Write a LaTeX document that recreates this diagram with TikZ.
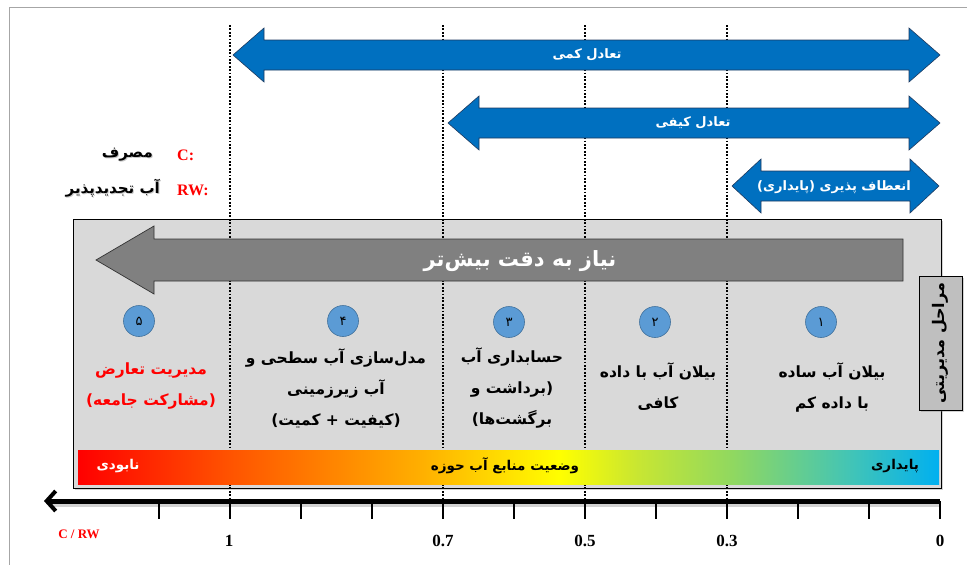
\documentclass[tikz,border=0pt]{standalone}
\usepackage{fontspec}
\setmainfont{Liberation Serif}
\newfontfamily\farsi[Script=Arabic]{DejaVu Sans}
\newfontfamily\parfont{DejaVu Sans}
\TeXXeTstate=1
\usetikzlibrary{arrows.meta,shadows}
\newcommand\fatext[1]{\beginR #1\endR}
\newcommand\lpar{{\parfont\bfseries(}}
\newcommand\rpar{{\parfont\bfseries)}}
\definecolor{bluearr}{HTML}{0070C0}
\definecolor{blueedge}{HTML}{1F3A5F}
\definecolor{boxgrey}{HTML}{D9D9D9}
\definecolor{arrgrey}{HTML}{808080}
\definecolor{circblue}{HTML}{5B9BD5}
\definecolor{circedge}{HTML}{41719C}
\definecolor{tabgrey}{HTML}{BFBFBF}
\definecolor{gA}{HTML}{FF0000}
\definecolor{gB}{HTML}{FF5500}
\definecolor{gC}{HTML}{FFB000}
\definecolor{gD}{HTML}{FFFF00}
\definecolor{gE}{HTML}{C8E632}
\definecolor{gF}{HTML}{90D860}
\definecolor{gG}{HTML}{40C4B8}
\definecolor{gH}{HTML}{00B0F0}
\pgfdeclarehorizontalshading{statusgrad}{100bp}{color(0bp)=(gA); color(25bp)=(gA); color(34bp)=(gB); color(45bp)=(gC); color(53bp)=(gD); color(57.5bp)=(gE); color(63bp)=(gF); color(70bp)=(gG); color(75bp)=(gH); color(100bp)=(gH)}
\newcommand\dblarrow[4]{% xl, xr, yc, head length
  \filldraw[bluearrow] (#1,#3) -- ({#1+#4},{#3-27}) -- ({#1+#4},{#3-15}) -- ({#2-#4},{#3-15}) -- ({#2-#4},{#3-27}) -- (#2,#3) -- ({#2-#4},{#3+27}) -- ({#2-#4},{#3+15}) -- ({#1+#4},{#3+15}) -- ({#1+#4},{#3+27}) -- cycle;}
\begin{document}
\begin{tikzpicture}[x=1pt,y=-1pt,
  bluearrow/.style={fill=bluearr,draw=blueedge,line width=0.6pt},
  dotline/.style={line width=1.8pt,dash pattern=on 1.8pt off 1.6pt},
  fatxt/.style={font=\farsi\bfseries\fontsize{15.5}{31}\selectfont,align=center,inner sep=0pt},
  arrtxt/.style={font=\farsi\bfseries\fontsize{13}{15}\selectfont,text=white,inner sep=0pt},
  bartxt/.style={font=\farsi\bfseries\fontsize{13.5}{15}\selectfont,inner sep=0pt},
  legfa/.style={font=\farsi\bfseries\fontsize{15}{17}\selectfont,inner sep=0pt,anchor=east},
  circ/.style={circle,fill=circblue,draw=circedge,line width=0.6pt,minimum size=31pt,inner sep=0pt,font=\farsi\fontsize{13}{15}\selectfont},
  numlbl/.style={font=\bfseries\fontsize{17}{19}\selectfont,inner sep=0pt},
  tick/.style={line width=2pt}]
\useasboundingbox (0,0) rectangle (967,565);
% frame
\draw[gray!70,line width=0.8pt] (9,565) -- (9,7) -- (967,7);
% main grey box
\node[draw=black,fill=boxgrey,line width=0.8pt,minimum width=868pt,minimum height=269pt,inner sep=0pt,
  drop shadow={shadow xshift=2pt,shadow yshift=-2pt,opacity=0.35}] (mainbox) at (507,353.5) {};
% dotted guide lines
\foreach \xx/\nm in {230/one,443/seven,585/five,727/three}{
  \coordinate (top\nm) at (\xx,25);
  \coordinate (bot\nm) at (\xx,500);
  \draw[dotline] (top\nm) -- (bot\nm);
}
% blue double arrows
\dblarrow{233}{940}{55}{31}
\dblarrow{448}{940}{123}{31}
\dblarrow{732}{939}{186}{29}
\node[arrtxt] (qty) at (587,55) {\fatext{تعادل کمی}};
\node[arrtxt] (qual) at (693,123) {\fatext{تعادل کیفی}};
\node[arrtxt] (resil) at (834,187) {\lpar\fatext{پایداری}\rpar\ \fatext{انعطاف پذیری}};
% legend
\node[anchor=west,text=red,font=\bfseries\fontsize{16}{18}\selectfont,inner sep=0pt] (cl) at (177,155) {C:};
\node[anchor=west,text=red,font=\bfseries\fontsize{16}{18}\selectfont,inner sep=0pt] (rwl) at (177,190) {RW:};
\node[legfa,text=black!22] (cfash) at (154,156) {\fatext{مصرف}};
\node[legfa] (cfa) at (153,155) {\fatext{مصرف}};
\node[legfa,text=black!22] (rwfash) at (161,189) {\fatext{آب تجدیدپذیر}};
\node[legfa] (rwfa) at (160,188) {\fatext{آب تجدیدپذیر}};
% grey arrow
\filldraw[fill=arrgrey,draw=black!80,line width=0.7pt] (96,260) -- (154,226) -- (154,239) -- (903,239) -- (903,281) -- (154,281) -- (154,294) -- cycle;
\node[font=\farsi\bfseries\fontsize{21}{23}\selectfont,text=white,inner sep=0pt] (need) at (520,261) {\fatext{نیاز به دقت بیش‌تر}};
% side tab
\node[draw=black,fill=tabgrey,line width=0.8pt,rotate=90,minimum width=134pt,minimum height=43pt,inner sep=0pt,
  font=\farsi\bfseries\fontsize{16}{18}\selectfont,drop shadow={shadow xshift=2pt,shadow yshift=-2pt,opacity=0.35}] (tab) at (940.5,343) {\fatext{مراحل مدیریتی}};
% circles
\node[circ] (c5) at (139,321) {۵};
\node[circ] (c4) at (343,321) {۴};
\node[circ] (c3) at (509,322) {۳};
\node[circ] (c2) at (655,322) {۲};
\node[circ] (c1) at (821,322) {۱};
% column texts
\node[fatxt,text=red] (t5) at (151,386) {\fatext{مدیریت تعارض}\\\lpar\fatext{مشارکت جامعه}\rpar};
\node[fatxt] (t4) at (336,388) {\fatext{مدل‌سازی آب سطحی و}\\\fatext{آب زیرزمینی}\\\lpar\fatext{کیفیت + کمیت}\rpar};
\node[fatxt] (t3) at (512,388) {\fatext{حسابداری آب}\\\fatext{برداشت و}\rpar\\\lpar\fatext{برگشت‌ها}};
\node[fatxt] (t2) at (658,387) {\fatext{بیلان آب با داده}\\\fatext{کافی}};
\node[fatxt] (t1) at (832,387) {\fatext{بیلان آب ساده}\\\fatext{با داده کم}};
% gradient bar
\shade[shading=statusgrad] (78,450) rectangle (939,484);
\node[bartxt,text=white] (bad) at (118,466) {\fatext{نابودی}};
\node[bartxt] (state) at (505,466) {\fatext{وضعیت منابع آب حوزه}};
\node[bartxt] (good) at (895,466) {\fatext{پایداری}};
% axis
\coordinate (axR) at (940,501);
\coordinate (axL) at (44,501);
\draw[black!35,line width=5pt,opacity=0.5] (940,504) -- (50,504);
\draw[line width=5pt,-{Straight Barb[length=9pt,width=20pt,line width=4pt]}] (axR) -- (axL);
\foreach \k in {0,...,11}{
  \draw[tick] ({940-71*\k},501) -- ({940-71*\k},519);
}
\node[text=red,font=\bfseries\fontsize{13}{15}\selectfont,inner sep=0pt] (ratio) at (79,534) {C / RW};
\node[numlbl] (n1) at (229,541) {1};
\node[numlbl] (n07) at (443,541) {0.7};
\node[numlbl] (n05) at (585,541) {0.5};
\node[numlbl] (n03) at (727,541) {0.3};
\node[numlbl] (n0) at (940,541) {0};
\end{tikzpicture}
\end{document}
